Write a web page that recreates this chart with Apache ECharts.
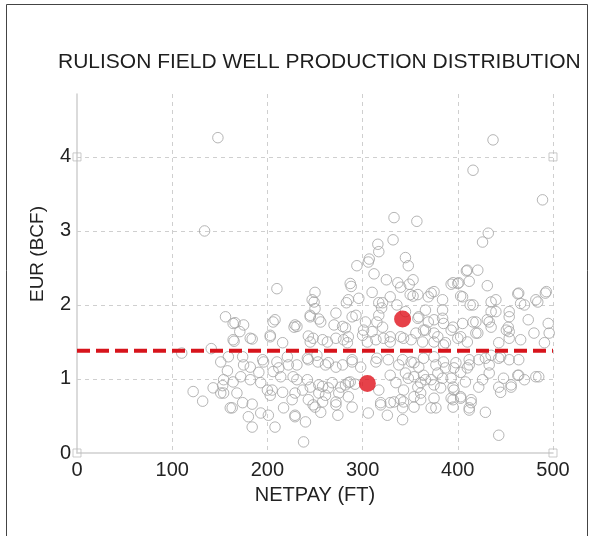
<!DOCTYPE html>
<html>
<head>
<meta charset="utf-8">
<script src="https://cdn.jsdelivr.net/npm/echarts@6/dist/echarts.min.js"></script>
<style>
  html, body { margin: 0; padding: 0; background: #ffffff; }
  #chart { width: 590px; height: 536px; }
</style>
</head>
<body>
<div id="chart"></div>
<script>
// Labels
const titleText = 'RULISON FIELD WELL PRODUCTION DISTRIBUTION';
const xAxisName = 'NETPAY (FT)';
const yAxisName = 'EUR (BCF)';

// Axis ranges / ticks
const xMin = 0, xMax = 500, xStep = 100;
const yMin = 0, yMax = 4.85, yStep = 1;

// Individual wells: [net pay (ft), EUR (BCF)]
const wells = [
  [148,4.26],[134,3.00],[437,4.23],[416,3.82],[489,3.42],[333,3.18],[357,3.13],[432,2.97],[426,2.85],
  [332,2.88],[316,2.82],[317,2.72],[345,2.64],[348,2.53],[307,2.62],[294,2.53],[306,2.58],[312,2.42],
  [409,2.46],[421,2.47],[325,2.34],[337,2.30],[349,2.28],[353,2.34],[412,2.32],[393,2.28],[400,2.29],
  [431,2.26],[210,2.22],[250,2.17],[288,2.25],[310,2.17],[340,2.24],[353,2.12],[372,2.16],[375,2.18],
  [403,2.12],[463,2.15],[492,2.16],[440,2.07],[482,2.07],[395,2.30],[287,2.29],[296,2.09],[321,2.03],
  [329,2.11],[336,2.00],[350,2.14],[405,2.11],[413,2.00],[466,2.02],[484,2.04],[247,2.07],[249,2.04],
  [283,2.03],[285,2.07],[317,2.03],[358,2.14],[369,2.11],[384,2.07],[410,2.47],[401,2.30],[416,2.00],
  [435,2.04],[464,2.16],[470,2.00],[493,2.18],
  [156,1.84],[164,1.75],[175,1.73],[171,1.64],[206,1.77],[231,1.71],[228,1.70],[245,1.86],[254,1.81],
  [250,1.95],[270,1.73],[279,1.71],[293,1.86],[301,1.66],[310,1.64],[315,1.77],[320,1.96],[345,1.91],
  [358,1.82],[366,1.93],[384,1.93],[435,1.91],[454,1.91],[474,1.80],[495,1.75],[375,1.80],[385,1.75],
  [405,1.75],[416,1.77],[431,1.80],[435,1.70],[453,1.70],[454,1.64],[364,1.66],[375,1.62],[393,1.66],
  [421,1.62],[480,1.62],[496,1.62],[272,1.89],[208,1.80],[229,1.73],[245,1.84],[256,1.77],[282,1.69],
  [289,1.84],[303,1.77],[317,1.86],[321,1.70],[359,1.84],[369,1.77],[366,1.66],[384,1.82],[395,1.70],
  [440,1.91],[454,1.84],[419,1.77],[433,1.77],[451,1.66],[419,1.62],[166,1.76],
  [164,1.53],[165,1.51],[184,1.54],[203,1.57],[216,1.49],[243,1.58],[245,1.50],[263,1.50],[272,1.55],
  [284,1.49],[305,1.50],[322,1.55],[329,1.50],[340,1.57],[351,1.53],[375,1.50],[385,1.46],[410,1.50],
  [466,1.53],[491,1.49],[141,1.41],[110,1.35],[248,1.55],[258,1.53],[280,1.53],[182,1.55],[203,1.59],
  [285,1.57],[300,1.59],[314,1.53],[329,1.57],[343,1.55],[356,1.62],[363,1.50],[379,1.57],[387,1.49],
  [400,1.55],[403,1.57],[443,1.49],[454,1.55],
  [159,1.30],[158,1.11],[151,1.23],[175,1.19],[195,1.26],[210,1.23],[221,1.30],[231,1.19],[243,1.26],
  [252,1.32],[261,1.19],[272,1.16],[279,1.19],[289,1.23],[298,1.16],[315,1.28],[327,1.26],[342,1.26],
  [354,1.22],[364,1.28],[375,1.30],[385,1.23],[396,1.15],[410,1.15],[422,1.26],[433,1.19],[445,1.30],
  [464,1.26],[435,1.32],[206,1.10],[345,1.08],[364,1.05],[379,1.08],[463,1.05],[354,1.03],[214,1.03],
  [485,1.03],[448,1.01],[182,1.16],[191,1.09],[212,1.15],[222,1.19],[242,1.28],[253,1.23],[264,1.22],
  [174,1.30],[196,1.23],[289,1.26],[314,1.23],[338,1.19],[351,1.23],[359,1.16],[377,1.19],[387,1.15],
  [398,1.22],[412,1.26],[429,1.28],[443,1.28],[454,1.26],[412,1.19],[403,1.09],[433,1.08],[464,1.05],
  [482,1.03],[172,1.03],[227,1.03],[329,1.05],[348,1.01],
  [164,0.96],[122,0.83],[143,0.88],[153,0.91],[154,0.81],[154,0.99],[182,0.99],[193,0.95],[231,0.99],
  [242,0.99],[254,0.92],[258,0.90],[268,0.95],[277,0.89],[287,0.96],[292,0.93],[151,0.81],[168,0.81],
  [200,0.85],[203,0.78],[216,0.82],[229,0.81],[261,0.78],[285,0.76],[317,0.85],[354,0.76],[361,0.95],
  [372,0.99],[393,1.01],[408,0.96],[426,0.99],[470,0.99],[343,0.85],[361,0.81],[382,0.88],[396,0.85],
  [422,0.89],[445,0.82],[456,0.89],[205,0.85],[237,0.85],[245,0.89],[254,0.81],[264,0.88],[275,0.81],
  [282,0.92],[285,0.95],[335,0.95],[358,0.89],[366,0.99],[375,0.92],[384,1.01],[395,0.89],[443,0.89],
  [456,0.92],[403,0.76],
  [132,0.70],[163,0.61],[174,0.68],[184,0.66],[226,0.72],[243,0.72],[248,0.65],[256,0.55],[272,0.65],
  [289,0.62],[319,0.65],[329,0.68],[340,0.72],[342,0.61],[180,0.49],[184,0.35],[193,0.54],[201,0.51],
  [208,0.35],[217,0.61],[229,0.51],[240,0.42],[238,0.15],[274,0.51],[326,0.51],[342,0.45],[343,0.69],
  [361,0.72],[393,0.74],[403,0.74],[414,0.72],[377,0.61],[395,0.62],[412,0.61],[429,0.55],[443,0.24],
  [412,0.58],[250,0.62],[258,0.69],[272,0.69],[229,0.49],[306,0.54],[319,0.68],[333,0.69],[354,0.62],
  [372,0.61],[375,0.74],[395,0.72],[414,0.68],[161,0.61]
];

// Two highlighted wells and the field-average EUR
const highlighted = [[305,0.94],[342,1.81]];
const meanEur = 1.38;

// Small frame markers at the corners of the 0–4 BCF box
const cornerMarks = [[0,0],[0,4],[500,0],[500,4]];

const fontFamily = '"Liberation Sans", Arial, Helvetica, sans-serif';
const gridColor = '#cfcfcf';

const chart = echarts.init(document.getElementById('chart'), null, { renderer: 'canvas' });

chart.setOption({
  animation: false,
  backgroundColor: '#ffffff',
  textStyle: { fontFamily: fontFamily },
  title: {
    text: titleText,
    left: 53,
    top: 47,
    textStyle: { fontFamily: fontFamily, fontSize: 21, fontWeight: 'normal', color: '#1e1e1e' }
  },
  graphic: [
    {
      type: 'rect',
      shape: { x: 6.5, y: 4.5, width: 581, height: 600 },
      style: { fill: 'none', stroke: '#444444', lineWidth: 1 },
      silent: true
    },
    {
      type: 'text',
      x: 38, y: 254,
      rotation: Math.PI / 2,
      style: {
        text: yAxisName,
        fontFamily: fontFamily, fontSize: 19, fill: '#222222',
        align: 'center', verticalAlign: 'middle'
      },
      silent: true
    }
  ],
  grid: { left: 77, right: 37, top: 94, bottom: 83, containLabel: false },
  xAxis: {
    type: 'value',
    min: xMin, max: xMax, interval: xStep,
    name: xAxisName,
    nameLocation: 'middle',
    nameGap: 32,
    nameTextStyle: { fontFamily: fontFamily, fontSize: 20, color: '#222222' },
    axisLine: { show: true, lineStyle: { color: gridColor, width: 1.5 } },
    axisTick: { show: false },
    axisLabel: { fontFamily: fontFamily, fontSize: 20, color: '#222222', margin: 7 },
    splitLine: {
      show: true, showMinLine: false, showMaxLine: true,
      lineStyle: { color: gridColor, type: [4, 4], width: 1 }
    }
  },
  yAxis: {
    type: 'value',
    min: yMin, max: yMax, interval: yStep,
    axisLine: { show: true, lineStyle: { color: gridColor, width: 1.5 } },
    axisTick: { show: false },
    axisLabel: {
      fontFamily: fontFamily, fontSize: 20, color: '#222222', margin: 6,
      showMaxLabel: false
    },
    splitLine: {
      show: true, showMinLine: false, showMaxLine: false,
      lineStyle: { color: gridColor, type: [4, 4], width: 1 }
    }
  },
  series: [
    {
      name: 'Wells',
      type: 'scatter',
      data: wells,
      symbol: 'circle',
      symbolSize: 10.5,
      itemStyle: { color: 'rgba(255,255,255,0)', borderColor: '#a2a2a2', borderWidth: 1 },
      z: 2
    },
    {
      name: 'Corners',
      type: 'scatter',
      data: cornerMarks,
      symbol: 'rect',
      symbolSize: 8,
      itemStyle: { color: 'rgba(255,255,255,0)', borderColor: '#bdbdbd', borderWidth: 1 },
      z: 2
    },
    {
      name: 'Average',
      type: 'line',
      data: [[xMin, meanEur], [xMax, meanEur]],
      symbol: 'none',
      lineStyle: { color: '#d7141c', width: 4, type: [13, 6] },
      z: 3
    },
    {
      name: 'Highlighted',
      type: 'scatter',
      data: highlighted,
      symbol: 'circle',
      symbolSize: 17,
      itemStyle: { color: '#e0111b' },
      z: 4
    }
  ]
});
</script>
</body>
</html>
